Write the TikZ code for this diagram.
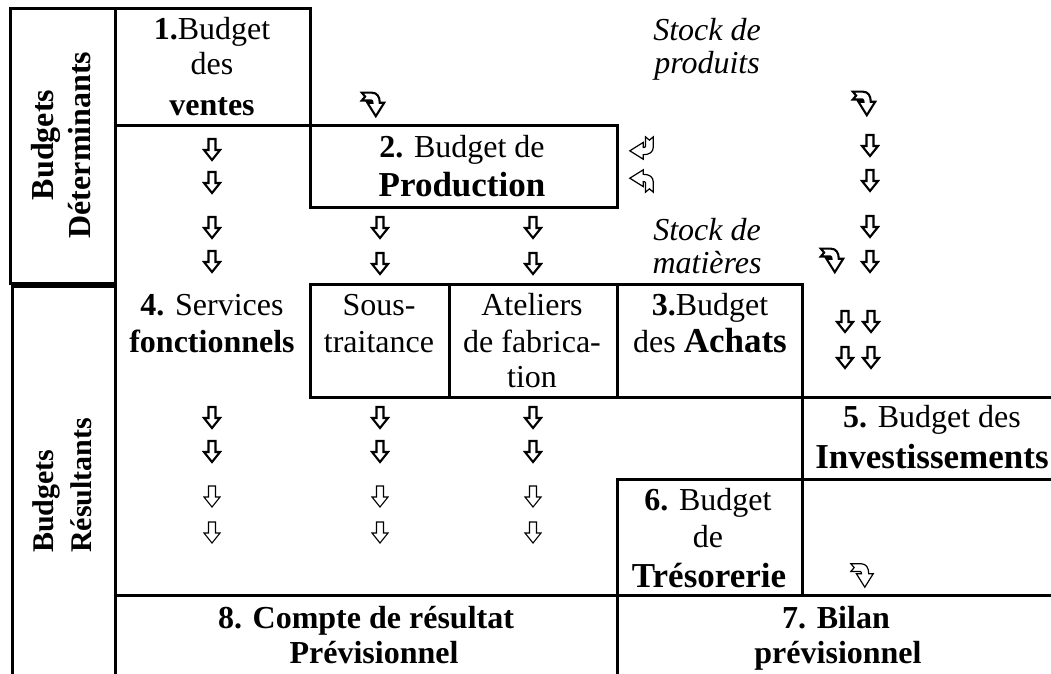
\documentclass[tikz,border=0pt]{standalone}
\usepackage{fontspec}
\setmainfont{Liberation Serif}
\begin{document}
\begin{tikzpicture}[x=1pt,y=-1pt,
  grid/.style={line width=3pt, line cap=rect},
  txt/.style={anchor=base, inner sep=0pt, font=\fontsize{32}{38}\selectfont},
  itx/.style={anchor=base, inner sep=0pt, font=\fontsize{32}{38}\selectfont\itshape},
  big/.style={anchor=base, inner sep=0pt, font=\fontsize{35}{40}\selectfont},
  sidetop/.style={rotate=90, anchor=base, inner sep=0pt, font=\fontsize{32}{38}\selectfont\bfseries},
  sidebot/.style={rotate=90, anchor=base west, inner sep=0pt, font=\fontsize{30}{36}\selectfont\bfseries},
  pics/dab/.style={code={\draw[line width=2.1pt, line join=miter] (-3.5,-11) -- (3.5,-11) -- (3.5,0) -- (8,0) -- (0,10) -- (-8,0) -- (-3.5,0) -- cycle;}},
  pics/dat/.style={code={\draw[line width=1.1pt, line join=miter] (-3.5,-11) -- (3.5,-11) -- (3.5,0) -- (8,0) -- (0,10) -- (-8,0) -- (-3.5,0) -- cycle;}},
  pics/cab/.style={code={\draw[line width=2.1pt, line join=miter, scale=1.12, shift={(-10,-11)}] (0,0) -- (9,0) .. controls (14,0) and (16,4) .. (16,9) -- (20,9) -- (12.5,21) -- (5,9) -- (9.5,9) .. controls (9.5,8) and (9.2,7) .. (8.5,7) -- (0,7) -- (3,3.5) -- cycle;}},
  pics/cat/.style={code={\draw[line width=1.2pt, line join=miter, scale=1.12, shift={(-10,-11)}] (0,0) -- (9,0) .. controls (14,0) and (16,4) .. (16,9) -- (20,9) -- (12.5,21) -- (5,9) -- (9.5,9) .. controls (9.5,8) and (9.2,7) .. (8.5,7) -- (0,7) -- (3,3.5) -- cycle;}}
]
\useasboundingbox (0,0) rectangle (1051,673);
\clip (0,0) rectangle (1051,673);
% grid lines
\draw[grid] (10,8) rectangle (115,283);
\draw[grid] (115,8) -- (310,8) -- (310,125) -- (115,125);
\draw[grid] (310,125) rectangle (617,207);
\draw[grid] (12,690) -- (12,286) -- (115,286) -- (115,690);
\draw[grid] (310,397) -- (310,284) -- (802,284) -- (802,595);
\draw[grid] (449,284) -- (449,397);
\draw[grid] (617,284) -- (617,397);
\draw[grid] (310,397) -- (1060,397);
\draw[grid] (617,479) -- (1060,479);
\draw[grid] (617,479) -- (617,690);
\draw[grid] (115,595) -- (1060,595);
% side labels
\node[sidetop] (bd1) at (53,145) {Budgets};
\node[sidetop] (bd2) at (90,145) {Déterminants};
\node[sidebot] (br1) at (53,553) {Budgets};
\node[sidebot] (br2) at (91,553) {Résultants};
% texts
\node[txt] (n1a) at (212,39) {\textbf{1.}Budget};
\node[txt] (n1b) at (212,74) {des};
\node[txt] (n1c) at (212,115) {\textbf{ventes}};
\node[txt] (n2a) at (462,157) {\textbf{2.} Budget de};
\node[big] (n2b) at (462,196) {\textbf{Production}};
\node[itx] (sp1) at (707,40) {Stock de};
\node[itx] (sp2) at (707,73) {produits};
\node[itx] (sm1) at (707,240) {Stock de};
\node[itx] (sm2) at (707,273) {matières};
\node[txt] (n4a) at (212,315) {\textbf{4.} Services};
\node[txt] (n4b) at (212,352) {\textbf{fonctionnels}};
\node[txt] (st1) at (379,315) {Sous-};
\node[txt] (st2) at (379,352) {traitance};
\node[txt] (at1) at (532,315) {Ateliers};
\node[txt] (at2) at (532,352) {de fabrica-};
\node[txt] (at3) at (532,387) {tion};
\node[txt] (n3a) at (710,315) {\textbf{3.}Budget};
\node[txt] (n3b) at (710,352) {des \fontsize{35}{40}\selectfont\textbf{Achats}};
\node[txt] (n5a) at (932,427) {\textbf{5.} Budget des};
\node[big] (n5b) at (932,468) {\textbf{Investissements}};
\node[txt] (n6a) at (708,510) {\textbf{6.} Budget};
\node[txt] (n6b) at (708,547) {de};
\node[big] (n6c) at (709,587) {\textbf{Trésorerie}};
\node[txt] (n7a) at (836,628) {\textbf{7. Bilan}};
\node[txt] (n7b) at (838,663) {\textbf{prévisionnel}};
\node[txt] (n8a) at (366,628) {\textbf{8. Compte de résultat}};
\node[txt] (n8b) at (374,663) {\textbf{Prévisionnel}};
% curved arrows
\pic at (373,105) {cab};
\pic at (864,104) {cab};
\pic at (832,261) {cab};
\pic at (862,576) {cat};
\pic[rotate=-90] at (641,148) {cat};
\pic[rotate=-90, xscale=-1] at (641,181) {cat};
% down arrows, upper part
\foreach \yy in {150,183,228,262} {\pic at (212,\yy) {dab};}
\foreach \yy in {146,181,227,262} {\pic at (870,\yy) {dab};}
\foreach \xx in {380,533} {\foreach \yy in {228,264} {\pic at (\xx,\yy) {dab};}}
\foreach \xx in {845,871} {\foreach \yy in {322,358} {\pic at (\xx,\yy) {dab};}}
% down arrows, lower part
\foreach \xx in {212,380,533} {
  \foreach \yy in {418,452} {\pic at (\xx,\yy) {dab};}
  \foreach \yy in {497,533} {\pic at (\xx,\yy) {dat};}
}
\end{tikzpicture}
\end{document}
